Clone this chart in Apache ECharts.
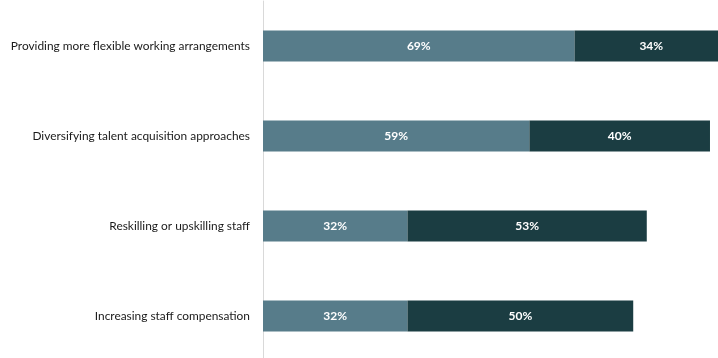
<!DOCTYPE html>
<html>
<head>
<meta charset="utf-8">
<script src="https://cdn.jsdelivr.net/npm/echarts@6/dist/echarts.min.js"></script>
<style>
  html, body { margin: 0; padding: 0; background: #fff; }
  #chart { width: 718px; height: 358px; }
</style>
</head>
<body>
<div id="chart"></div>
<script>
// Survey: share of respondents citing each approach, two response groups
const categories = [
  'Providing more flexible working arrangements',
  'Diversifying talent acquisition approaches',
  'Reskilling or upskilling staff',
  'Increasing staff compensation'
];
const firstGroup = [69, 59, 32, 32];
const secondGroup = [34, 40, 53, 50];

const chart = echarts.init(document.getElementById('chart'), null, { renderer: 'canvas' });

const barLabel = {
  show: true,
  position: 'inside',
  formatter: '{c}%',
  color: '#ffffff',
  fontFamily: 'Lato',
  fontWeight: 'bold',
  fontSize: 12
};

chart.setOption({
  animation: false,
  grid: {
    left: 263, right: 3.5, top: 1, bottom: -3,
    containLabel: false,
    outerBoundsMode: 'none'
  },
  xAxis: {
    type: 'value',
    min: 0,
    max: 100,
    show: false
  },
  yAxis: {
    type: 'category',
    data: categories,
    inverse: true,
    axisLine: { show: true, lineStyle: { color: '#d9d9d9', width: 1 } },
    axisTick: { show: false },
    axisLabel: {
      color: '#1a1a1a',
      fontFamily: 'Lato',
      fontSize: 11.9,
      margin: 13
    }
  },
  series: [
    {
      name: 'Group A',
      type: 'bar',
      stack: 'total',
      barWidth: 31,
      clip: false,
      data: firstGroup,
      itemStyle: { color: '#577c8a' },
      label: barLabel
    },
    {
      name: 'Group B',
      type: 'bar',
      stack: 'total',
      barWidth: 31,
      clip: false,
      data: secondGroup,
      itemStyle: { color: '#1b3d42' },
      label: barLabel
    }
  ]
});
</script>
</body>
</html>
